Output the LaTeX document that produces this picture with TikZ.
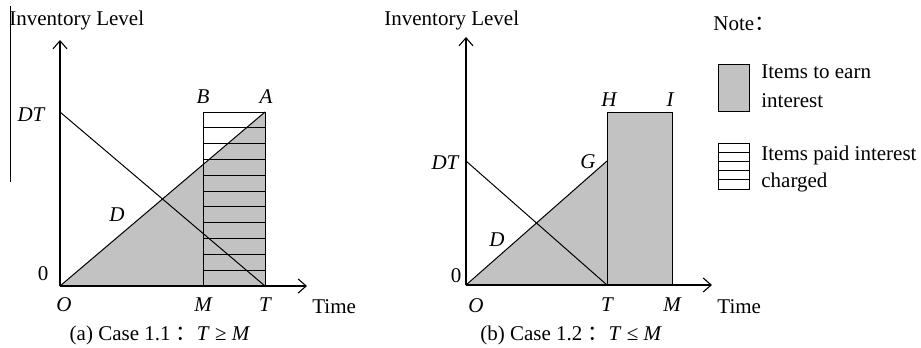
\documentclass[tikz,border=0pt]{standalone}
\usepackage{fontspec}
\setmainfont{Liberation Serif}
\newfontfamily\cjk{Noto Sans CJK SC}
\usetikzlibrary{arrows.meta}
\colorlet{grayfill}{black!24}
\tikzset{
  ln/.style={line width=0.5pt},
  axis/.style={line width=0.55pt,-{Straight Barb[length=4pt,width=7pt,line width=0.55pt]}},
  lbl/.style={inner sep=0pt,font=\fontsize{10.5}{12.5}\selectfont},
  it/.style={inner sep=0pt,font=\fontsize{10.5}{12.5}\selectfont\itshape},
}
\begin{document}
\begin{tikzpicture}[x=0.5pt,y=-0.5pt]
\useasboundingbox (0,0) rectangle (921,348);
% ---------- left panel ----------
\coordinate (O1) at (60,286);
\coordinate (A) at (265,112);
\coordinate (B) at (203,112);
\coordinate (M1) at (203,286);
\coordinate (T1) at (265,286);
\coordinate (DT1) at (60,112);
\coordinate (Y1) at (60,40);
\coordinate (X1) at (307,286);
\fill[grayfill] (O1) -- (A) -- (T1) -- cycle;
\foreach \i in {1,...,10}
  \draw[ln] (203,{112+\i*174/11}) -- (265,{112+\i*174/11});
\draw[ln] (M1) rectangle (A);
\draw[ln] (O1) -- (A);
\draw[ln] (DT1) -- (T1);
\draw[axis] (O1) -- (Y1);
\draw[axis] (O1) -- (X1);
\draw[ln] (10,6) -- (10,182);
\node[lbl,anchor=west] (il1) at (9,20) {Inventory Level};
\node[it] (dt1) at (31,115) {DT};
\node[lbl] (z1) at (43,274) {0};
\node[it] (o1) at (64,305) {O};
\node[it] (m1) at (203,305) {M};
\node[it] (t1) at (265,305) {T};
\node[lbl,anchor=west] (time1) at (312,307) {Time};
\node[it] (d1) at (117,215) {D};
\node[it] (b1) at (203,97) {B};
\node[it] (a1) at (266,97) {A};
\node[lbl] (cap1) at (160,335) {(a) Case 1.1 {\cjk ：}\textit{T} ≥ \textit{M}};
% ---------- right panel ----------
\coordinate (O2) at (466,285);
\coordinate (T2) at (607,285);
\coordinate (M2) at (672,285);
\coordinate (H) at (607,112);
\coordinate (I) at (672,112);
\coordinate (G) at (607,161);
\coordinate (DT2) at (466,161);
\coordinate (Y2) at (466,37);
\coordinate (X2) at (712,285);
\fill[grayfill] (O2) -- (G) -- (T2) -- cycle;
\fill[grayfill] (T2) rectangle (I);
\draw[ln] (T2) rectangle (I);
\draw[ln] (O2) -- (G);
\draw[ln] (DT2) -- (T2);
\draw[axis] (O2) -- (Y2);
\draw[axis] (O2) -- (X2);
\node[lbl,anchor=west] (il2) at (384,20) {Inventory Level};
\node[it] (dt2) at (445,163) {DT};
\node[lbl] (z2) at (456,276) {0};
\node[it] (o2) at (476,306) {O};
\node[it] (t2) at (607,305) {T};
\node[it] (m2) at (672,305) {M};
\node[lbl,anchor=west] (time2) at (717,307) {Time};
\node[it] (d2) at (497,240) {D};
\node[it] (g2) at (588,162) {G};
\node[it] (h2) at (609,100) {H};
\node[it] (i2) at (670,100) {I};
\node[lbl,anchor=west] (cap2) at (480,335) {(b) Case 1.2 {\cjk ：}\textit{T} ≤ \textit{M}};
% ---------- legend ----------
\node[lbl,anchor=west] (note) at (713,24) {Note{\cjk ：}};
\fill[grayfill] (718,64) rectangle (749,111);
\draw[ln] (718,64) rectangle (749,111);
\node[lbl,anchor=west] (earn1) at (761,72) {Items to earn};
\node[lbl,anchor=west] (earn2) at (761,101) {interest};
\foreach \i in {1,...,4}
  \draw[ln] (718,{143+\i*46/5}) -- (749,{143+\i*46/5});
\draw[ln] (718,143) rectangle (749,189);
\node[lbl,anchor=west] (paid1) at (761,155) {Items paid interest};
\node[lbl,anchor=west] (paid2) at (761,182) {charged};
\end{tikzpicture}
\end{document}
